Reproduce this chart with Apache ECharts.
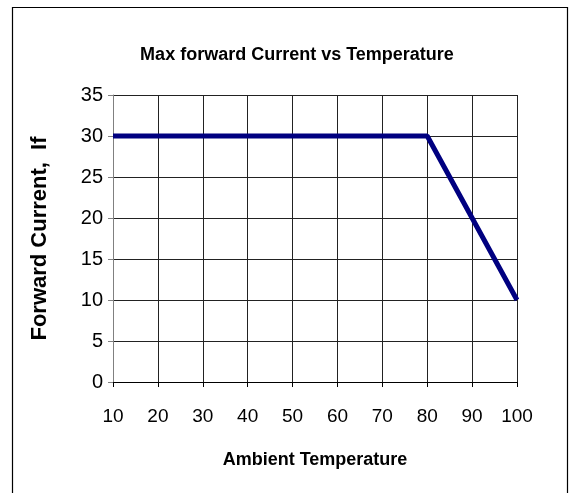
<!DOCTYPE html>
<html>
<head>
<meta charset="utf-8">
<script src="https://cdn.jsdelivr.net/npm/echarts@6/dist/echarts.min.js"></script>
<style>
html,body{margin:0;padding:0;background:#fff;}
#chart{width:572px;height:493px;}
</style>
</head>
<body>
<div id="chart"></div>
<script>
// Data
var temperature = [10, 80, 100];
var forwardCurrent = [30, 30, 10];
var xTicks = [10, 20, 30, 40, 50, 60, 70, 80, 90, 100];
var yTicks = [0, 5, 10, 15, 20, 25, 30, 35];

var SANS = "'Liberation Sans', Arial, sans-serif";

var chart = echarts.init(document.getElementById('chart'), null, {renderer: 'canvas'});
var seriesData = temperature.map(function (t, i) { return [t, forwardCurrent[i]]; });

chart.setOption({
  animation: false,
  backgroundColor: '#ffffff',
  title: {
    text: 'Max forward Current vs Temperature',
    left: 292,
    textAlign: 'center',
    top: 41,
    textStyle: {fontFamily: SANS, fontWeight: 'bold', fontSize: 18, color: '#000'}
  },
  graphic: [
    {type: 'rect', shape: {x: 12.5, y: 7.5, width: 555, height: 520}, style: {fill: 'none', stroke: '#000', lineWidth: 1.2}, silent: true}
  ],
  grid: {left: 113, right: 55, top: 95, bottom: 111, containLabel: false},
  xAxis: {
    type: 'value',
    min: xTicks[0],
    max: xTicks[xTicks.length - 1],
    interval: 10,
    name: 'Ambient Temperature',
    nameLocation: 'middle',
    nameGap: 69,
    nameTextStyle: {fontFamily: SANS, fontWeight: 'bold', fontSize: 18, color: '#000'},
    axisLine: {lineStyle: {color: '#000', width: 1}},
    axisTick: {show: true, inside: false, length: 5, lineStyle: {color: '#000'}},
    axisLabel: {fontFamily: SANS, fontSize: 19, color: '#000', margin: 25},
    splitLine: {show: true, lineStyle: {color: '#222', width: 1}}
  },
  yAxis: {
    type: 'value',
    min: yTicks[0],
    max: yTicks[yTicks.length - 1],
    interval: 5,
    name: 'Forward Current,  If',
    nameLocation: 'middle',
    nameGap: 62,
    nameRotate: 90,
    nameTextStyle: {fontFamily: SANS, fontWeight: 'bold', fontSize: 22, color: '#000'},
    axisLine: {show: true, lineStyle: {color: '#808080', width: 1}},
    axisTick: {show: true, inside: false, length: 5, lineStyle: {color: '#808080'}},
    axisLabel: {fontFamily: SANS, fontSize: 20, color: '#000', margin: 10},
    splitLine: {show: true, lineStyle: {color: '#222', width: 1}}
  },
  series: [{
    type: 'line',
    data: seriesData,
    showSymbol: false,
    symbol: 'none',
    lineStyle: {color: '#000080', width: 5},
    itemStyle: {color: '#000080'}
  }]
});
</script>
</body>
</html>
